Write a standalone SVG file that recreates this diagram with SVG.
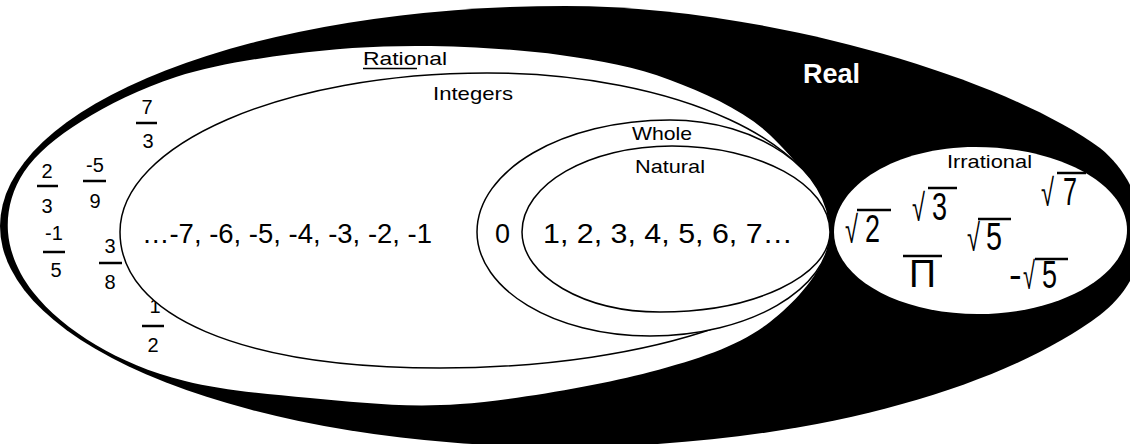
<svg xmlns="http://www.w3.org/2000/svg" width="1130" height="444" viewBox="0 0 1130 444">
<style>
text{font-family:"Liberation Sans",Arial,sans-serif;fill:#000}
.lbl{font-size:19px}
.row{font-size:28px}
.fr{font-size:20px;text-anchor:middle}
.rad{font-size:38px}
.bar{stroke:#000;stroke-width:2.5;fill:none}
.set{fill:#fff;stroke:#000;stroke-width:1.5}
</style>
<rect width="1130" height="444" fill="#fff"/>
<g id="real">
<path d="M565,6 C760,6 1000,75 1100,148 C1125,168 1142,200 1142,232 C1142,270 1125,295 1100,315 C1000,390 800,447 565,447 A565,221 0 0 1 0,226 A565,220 0 0 1 565,6 Z" fill="#000"/>
<text x="803" y="83" font-size="28" font-weight="bold" textLength="57" lengthAdjust="spacingAndGlyphs" style="fill:#fff">Real</text>
</g>
<g id="rational">
<path d="M8,232 C6.5,212 11.7,190.5 24,172 C36.3,153.5 56.7,136.8 82,121 C107.3,105.2 141,88.2 176,77 C211,65.8 251.3,59.2 292,54 C332.7,48.8 375.3,45.8 420,46 C464.7,46.2 518.3,49.3 560,55 C601.7,60.7 635,66.7 670,80 C705,93.3 743.3,109.7 770,135 C796.7,160.3 830,200.8 830,232 C830,263.2 800,298.7 770,322 C740,345.3 701.7,358.3 650,372 C598.3,385.7 516.7,399.7 460,404 C403.3,408.3 355.8,401.8 310,398 C264.2,394.2 220.7,389.8 185,381 C149.3,372.2 121.3,359.8 96,345 C70.7,330.2 47.7,310.8 33,292 C18.3,273.2 9.5,252 8,232 Z" fill="#fff"/>
<text class="lbl" x="363" y="65" textLength="84" lengthAdjust="spacingAndGlyphs">Rational</text>
<line x1="363" y1="68.5" x2="417" y2="68.5" stroke="#000" stroke-width="1.5"/>
<g id="fractions">
<text class="fr" x="147" y="114">7</text><line class="bar" x1="136" y1="123" x2="157" y2="123"/><text class="fr" x="148" y="148" font-size="18">3</text>
<text class="fr" x="47" y="178" font-size="22">2</text><line class="bar" x1="37" y1="186" x2="58" y2="186"/><text class="fr" x="47" y="213" font-size="22">3</text>
<text class="fr" x="95" y="172" font-size="18">-5</text><line class="bar" x1="83" y1="181" x2="106" y2="181"/><text class="fr" x="95" y="208">9</text>
<text class="fr" x="54" y="240" font-size="17">-1</text><line class="bar" x1="43" y1="252" x2="65" y2="252"/><text class="fr" x="56" y="277" font-size="18">5</text>
<text class="fr" x="110" y="253">3</text><line class="bar" x1="99" y1="263" x2="122" y2="263"/><text class="fr" x="110" y="289" font-size="22">8</text>
<text class="fr" x="155" y="313" font-size="18">1</text><line class="bar" x1="142" y1="326" x2="164" y2="326"/><text class="fr" x="153" y="352">2</text>
</g>
</g>
<g id="integers">
<path class="set" d="M120,232 C120,144 284,73 487,73 C676,73 830,144 830,232 C830,306 655,368 440,368 C241.6,368 120,316.3 120,232 Z"/>
<text class="lbl" x="433" y="100" font-size="20" textLength="80" lengthAdjust="spacingAndGlyphs">Integers</text>
<text class="row" x="142" y="243" textLength="290" lengthAdjust="spacingAndGlyphs">…-7, -6, -5, -4, -3, -2, -1</text>
</g>
<g id="whole">
<path class="set" d="M477,232 C477,170 563,120 670,120 C758,120 830,170 830,232 C830,289 749,336 650,336 C554,336 477,289 477,232 Z"/>
<text class="lbl" x="632" y="140" textLength="60" lengthAdjust="spacingAndGlyphs">Whole</text>
<text class="row" x="495" y="243" textLength="15" lengthAdjust="spacingAndGlyphs">0</text>
</g>
<g id="natural">
<path class="set" d="M522,232 C522,184.5 589,146 672,146 C759,146 830,184.5 830,232 C830,276 754,312 660,312 C584,312 522,276 522,232 Z"/>
<text class="lbl" x="635" y="173" textLength="70" lengthAdjust="spacingAndGlyphs">Natural</text>
<text class="row" x="543" y="243" textLength="250" lengthAdjust="spacingAndGlyphs">1, 2, 3, 4, 5, 6, 7…</text>
</g>
<g id="irrational">
<path d="M834,232 C834,185 897,147 975,147 C1059,147 1127,184 1127,230 C1127,276 1060,314 978,314 C897,314 834,277 834,232 Z" fill="#fff"/>
<text class="lbl" x="947" y="168" textLength="85" lengthAdjust="spacingAndGlyphs">Irrational</text>
<text class="rad" x="845" y="243" textLength="13" lengthAdjust="spacingAndGlyphs">√</text>
<text class="rad" x="865" y="242" textLength="15" lengthAdjust="spacingAndGlyphs">2</text>
<line class="bar" x1="857" y1="210" x2="891" y2="210"/>
<text class="rad" x="912" y="221" textLength="13" lengthAdjust="spacingAndGlyphs">√</text>
<text class="rad" x="932" y="220" textLength="15" lengthAdjust="spacingAndGlyphs">3</text>
<line class="bar" x1="928" y1="188" x2="957" y2="188"/>
<text class="rad" x="1041" y="206" textLength="13" lengthAdjust="spacingAndGlyphs">√</text>
<text class="rad" x="1063" y="205" textLength="14" lengthAdjust="spacingAndGlyphs">7</text>
<line class="bar" x1="1057" y1="173" x2="1086" y2="173"/>
<text class="rad" x="967" y="251" textLength="13" lengthAdjust="spacingAndGlyphs">√</text>
<text class="rad" x="986" y="250" textLength="16" lengthAdjust="spacingAndGlyphs">5</text>
<line class="bar" x1="978" y1="219" x2="1011" y2="219"/>
<text class="rad" x="1009" y="288" font-size="26">-</text>
<text class="rad" x="1023" y="289" textLength="12" lengthAdjust="spacingAndGlyphs">√</text>
<text class="rad" x="1042" y="288" textLength="15" lengthAdjust="spacingAndGlyphs">5</text>
<line class="bar" x1="1035" y1="259" x2="1068" y2="259"/>
<text class="rad" x="909" y="287" font-size="44" textLength="27" lengthAdjust="spacingAndGlyphs">Π</text>
<line class="bar" x1="903" y1="256" x2="942" y2="256"/>
</g>
</svg>
